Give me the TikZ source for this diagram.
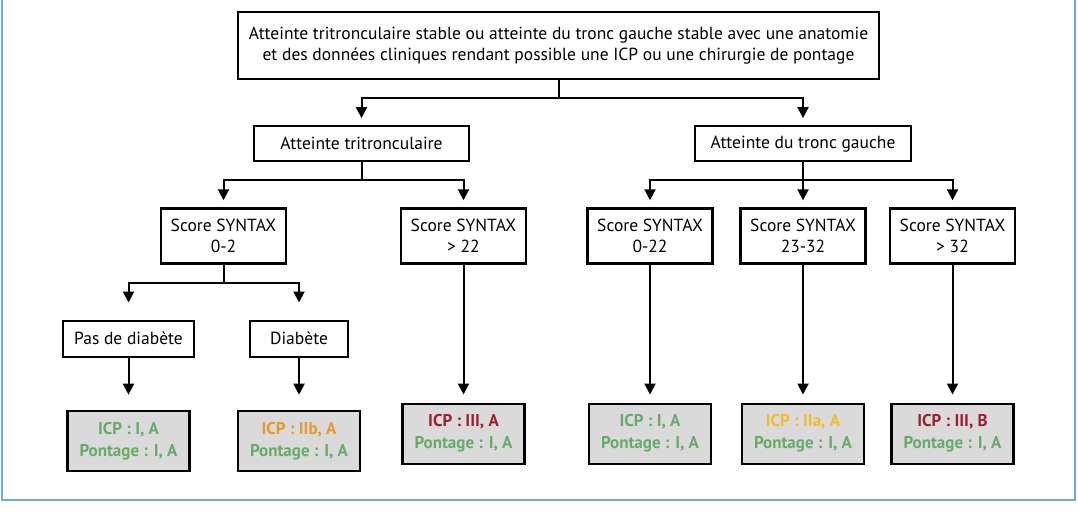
\documentclass[tikz,border=0pt]{standalone}
\usepackage{fontspec}
\setmainfont{PT Sans}
\usetikzlibrary{positioning}
\usetikzlibrary{arrows.meta}
\definecolor{frameblue}{RGB}{111,168,222}
\definecolor{gradeok}{RGB}{104,170,104}
\definecolor{gradeiib}{RGB}{232,152,44}
\definecolor{gradeiia}{RGB}{242,188,44}
\definecolor{gradeno}{RGB}{158,30,44}
\definecolor{resfill}{RGB}{218,218,218}
\tikzstyle{box} = [rectangle, fill=white, draw=black, line width=2.2pt, align=center,
inner sep=0pt, font=\fontsize{17.5}{21.5}\selectfont]
\tikzstyle{branch} = [box, minimum height=35pt]
\tikzstyle{score} = [box, minimum width=125pt, minimum height=55pt]
\tikzstyle{choice} = [box, minimum height=36pt]
\tikzstyle{result} = [box, fill=resfill, minimum width=122pt, minimum height=60pt,
font=\bfseries\fontsize{17}{22}\selectfont]
\tikzstyle{wire} = [line width=2pt, shorten >=7pt]
\tikzset{>={Triangle[width=11pt,length=11pt]}}
\newcommand{\fork}[3][]{ %
  % Drop below node #2, then branch to all nodes #3.
  \draw[wire, shorten >=0pt] (#2.south) -- ++(0,18) coordinate (#2-bar);
  \foreach \y in {#3} { %
    \draw[wire,->,#1] (#2-bar) -| (\y.north) ;
  } ;
}

\begin{document}
\begin{tikzpicture}[x=1pt, y=-1pt]
  \useasboundingbox (0,0) rectangle (1078,516);
  \draw[frameblue, line width=2.5pt] (2,-10) rectangle (1075,500);

  \node[box, minimum width=641pt, minimum height=67pt] (top) at (558.5,45.5)
    {Atteinte tritronculaire stable ou atteinte du tronc gauche stable avec une anatomie\\
     et des données cliniques rendant possible une ICP ou une chirurgie de pontage};

  \node[branch, minimum width=215pt, below=45pt of top, xshift=-197pt] (tri) {Atteinte tritronculaire};
  \node[branch, minimum width=216pt, below=45pt of top, xshift=244.5pt] (tg) {Atteinte du tronc gauche};
  \fork {top} {tri,tg};

  \node[score, below=45pt of tri, xshift=-138pt] (s02) {Score SYNTAX\\0-2};
  \node[score, below=45pt of tri, xshift=102pt] (s22) {Score SYNTAX\\> 22};
  \fork {tri} {s02,s22};

  \node[score, below=45pt of tg, xshift=-153pt] (s022) {Score SYNTAX\\0-22};
  \node[score, below=45pt of tg] (s2332) {Score SYNTAX\\23-32};
  \node[score, below=45pt of tg, xshift=149.5pt] (s32) {Score SYNTAX\\> 32};
  \fork {tg} {s022,s2332,s32};

  \node[choice, minimum width=131pt, below=55pt of s02, xshift=-95pt] (nodiab) {Pas de diabète};
  \node[choice, minimum width=98pt, below=55pt of s02, xshift=75.5pt] (diab) {Diabète};
  \fork[shorten >=17pt] {s02} {nodiab,diab};

  \node[result, below=52pt of nodiab] (r1)
    {\textcolor{gradeok}{ICP : I, A}\\\textcolor{gradeok}{Pontage : I, A}};
  \node[result, below=52pt of diab] (r2)
    {\textcolor{gradeiib}{ICP : IIb, A}\\\textcolor{gradeok}{Pontage : I, A}};
  \node[result, below=138pt of s22] (r3)
    {\textcolor{gradeno}{ICP : III, A}\\\textcolor{gradeok}{Pontage : I, A}};
  \node[result, below=138pt of s022] (r4)
    {\textcolor{gradeok}{ICP : I, A}\\\textcolor{gradeok}{Pontage : I, A}};
  \node[result, below=138pt of s2332] (r5)
    {\textcolor{gradeiia}{ICP : IIa, A}\\\textcolor{gradeok}{Pontage : I, A}};
  \node[result, below=138pt of s32] (r6)
    {\textcolor{gradeno}{ICP : III, B}\\\textcolor{gradeok}{Pontage : I, A}};

  \draw[wire,->,shorten >=15pt] (nodiab) -- (r1);
  \draw[wire,->,shorten >=15pt] (diab) -- (r2);
  \draw[wire,->,shorten >=8pt] (s22) -- (r3);
  \draw[wire,->,shorten >=8pt] (s022) -- (r4);
  \draw[wire,->,shorten >=8pt] (s2332) -- (r5);
  \draw[wire,->,shorten >=8pt] (s32) -- (r6);
\end{tikzpicture}
\end{document}
